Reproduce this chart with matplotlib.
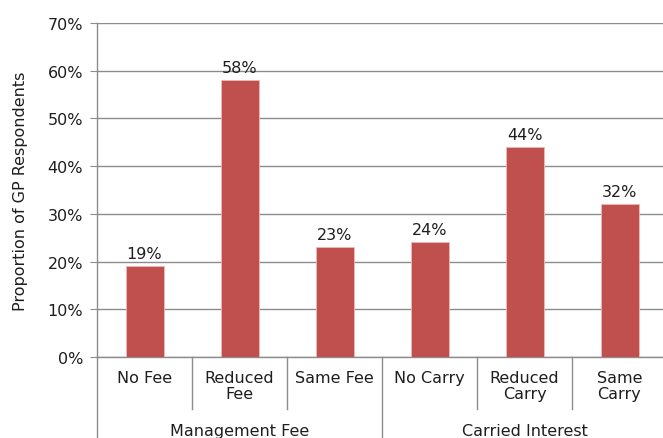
import matplotlib.pyplot as plt
import matplotlib.transforms as mtransforms

categories = ['No Fee', 'Reduced\nFee', 'Same Fee', 'No Carry', 'Reduced\nCarry', 'Same\nCarry']
groups = ['Management Fee', 'Carried Interest']
values = [19, 58, 23, 24, 44, 32]
y_ticks = [0, 10, 20, 30, 40, 50, 60, 70]

plt.rcParams['font.family'] = ['DejaVu Sans']

W, H = 663, 439
fig = plt.figure(figsize=(W / 100, H / 100), dpi=100)
# axes box in pixels: left 97, right 667, top 24, bottom 358
ax = fig.add_axes([97 / W, (H - 358) / H, 570 / W, 334 / H])

bar_color = '#C0504D'
grid_color = '#8C8C8C'
text_color = '#1E1E1E'
fs = 11.5
x = [i + 0.5 for i in range(len(values))]
ax.bar(x, values, width=0.4, color=bar_color, edgecolor='#F2B8B6', linewidth=0.6, zorder=3)

for xi, v in zip(x, values):
    ax.text(xi, v + 1.1, f'{v}%', ha='center', va='bottom', fontsize=fs, color=text_color, zorder=4)

ax.set_xlim(0, 6)
ax.set_ylim(0, 70)
ax.set_yticks(y_ticks)
ax.set_yticklabels([f'{t}%' for t in y_ticks], fontsize=fs, color=text_color)
ax.tick_params(axis='y', length=5, color=grid_color, pad=5)
ax.set_xticks([])
ax.yaxis.grid(True, color=grid_color, linewidth=1)
ax.set_axisbelow(True)

for side in ['top', 'right']:
    ax.spines[side].set_visible(False)
for side in ['left', 'bottom']:
    ax.spines[side].set_color(grid_color)
    ax.spines[side].set_linewidth(1)

ax.set_ylabel('Proportion of GP Respondents', fontsize=fs, color=text_color, labelpad=14)

trans = mtransforms.blended_transform_factory(ax.transData, ax.transAxes)
px = 1 / 334  # one pixel in axes fraction vertically

# category labels and separators
for xi, lab in zip(x, categories):
    ax.text(xi, -13 * px, lab, transform=trans, ha='center', va='top',
            fontsize=fs, color=text_color, linespacing=1.05)
for b in [1, 2, 4, 5]:
    ax.plot([b, b], [0, -52 * px], transform=trans, color=grid_color, lw=1, clip_on=False)
for b in [0, 3, 6]:
    ax.plot([b, b], [0, -90 * px], transform=trans, color=grid_color, lw=1, clip_on=False)

# group labels
for gi, g in enumerate(groups):
    ax.text(gi * 3 + 1.5, -66 * px, g, transform=trans, ha='center', va='top',
            fontsize=fs, color=text_color)

fig.savefig('out.png', dpi=100)
